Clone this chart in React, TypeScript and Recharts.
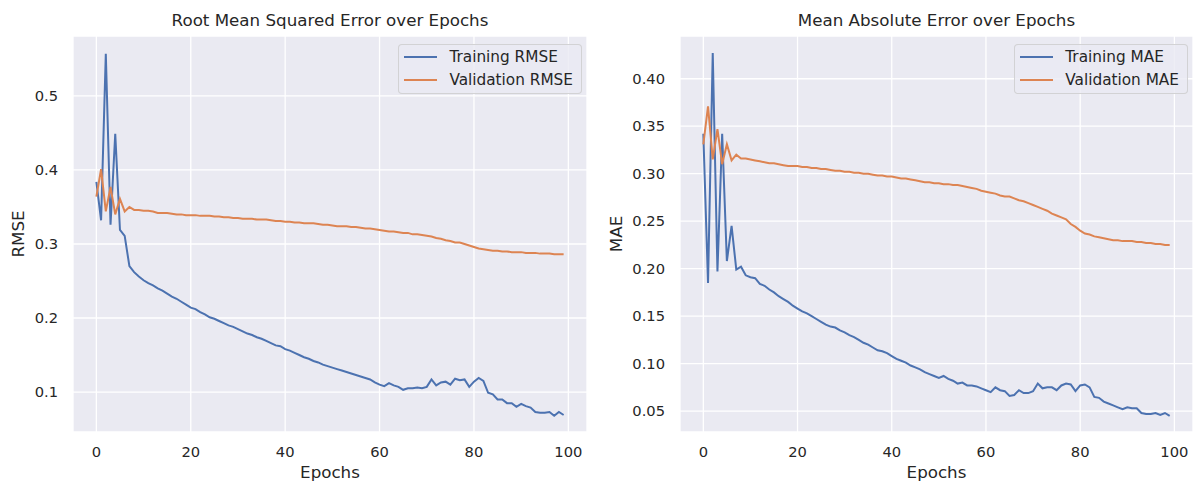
import React from 'react';
import { LineChart, Line, XAxis, YAxis, CartesianGrid, Legend, Label } from 'recharts';

// values, epoch = array index
const trainRmse = [
  0.384, 0.332, 0.557, 0.326, 0.449, 0.319, 0.311, 0.270, 0.262, 0.256,
  0.251, 0.247, 0.244, 0.240, 0.237, 0.233, 0.229, 0.226, 0.222, 0.218,
  0.214, 0.212, 0.208, 0.205, 0.201, 0.199, 0.196, 0.193, 0.190, 0.188,
  0.185, 0.182, 0.179, 0.177, 0.174, 0.172, 0.169, 0.166, 0.163, 0.162,
  0.158, 0.156, 0.153, 0.150, 0.147, 0.145, 0.142, 0.140, 0.137, 0.135,
  0.133, 0.131, 0.129, 0.127, 0.125, 0.123, 0.121, 0.119, 0.117, 0.113,
  0.110, 0.108, 0.112, 0.109, 0.107, 0.103, 0.105, 0.105, 0.106, 0.105,
  0.107, 0.117, 0.109, 0.113, 0.114, 0.110, 0.118, 0.116, 0.117, 0.107,
  0.114, 0.119, 0.115, 0.099, 0.097, 0.090, 0.090, 0.085, 0.085, 0.080,
  0.084, 0.081, 0.079, 0.073, 0.072, 0.072, 0.073, 0.068, 0.073, 0.069,
];
const valRmse = [
  0.364, 0.401, 0.344, 0.377, 0.340, 0.361, 0.344, 0.350, 0.346, 0.346,
  0.345, 0.345, 0.344, 0.342, 0.342, 0.342, 0.341, 0.340, 0.340, 0.339,
  0.339, 0.339, 0.338, 0.338, 0.338, 0.337, 0.337, 0.336, 0.336, 0.335,
  0.335, 0.334, 0.334, 0.334, 0.333, 0.333, 0.333, 0.332, 0.331, 0.331,
  0.330, 0.330, 0.329, 0.329, 0.328, 0.328, 0.328, 0.327, 0.326, 0.326,
  0.325, 0.324, 0.324, 0.324, 0.323, 0.323, 0.322, 0.321, 0.321, 0.320,
  0.319, 0.318, 0.317, 0.317, 0.316, 0.315, 0.315, 0.313, 0.313, 0.312,
  0.311, 0.310, 0.308, 0.307, 0.305, 0.304, 0.302, 0.302, 0.300, 0.298,
  0.296, 0.294, 0.293, 0.292, 0.291, 0.291, 0.290, 0.290, 0.289, 0.289,
  0.289, 0.288, 0.288, 0.288, 0.287, 0.287, 0.287, 0.286, 0.286, 0.286,
];
const trainMae = [
  0.342, 0.185, 0.427, 0.197, 0.342, 0.208, 0.245, 0.199, 0.202, 0.193,
  0.191, 0.190, 0.184, 0.182, 0.178, 0.175, 0.171, 0.168, 0.165, 0.161,
  0.158, 0.155, 0.153, 0.150, 0.147, 0.144, 0.141, 0.139, 0.138, 0.135,
  0.133, 0.130, 0.128, 0.125, 0.122, 0.120, 0.117, 0.114, 0.113, 0.111,
  0.108, 0.105, 0.103, 0.101, 0.098, 0.096, 0.094, 0.091, 0.089, 0.087,
  0.085, 0.087, 0.084, 0.082, 0.079, 0.080, 0.077, 0.077, 0.076, 0.074,
  0.072, 0.070, 0.075, 0.072, 0.071, 0.066, 0.067, 0.072, 0.069, 0.069,
  0.071, 0.079, 0.074, 0.075, 0.075, 0.072, 0.077, 0.079, 0.078, 0.071,
  0.077, 0.078, 0.075, 0.065, 0.064, 0.060, 0.058, 0.056, 0.054, 0.052,
  0.054, 0.053, 0.053, 0.048, 0.047, 0.047, 0.048, 0.046, 0.048, 0.045,
];
const valMae = [
  0.331, 0.371, 0.315, 0.347, 0.310, 0.331, 0.314, 0.320, 0.316, 0.316,
  0.315, 0.314, 0.313, 0.312, 0.311, 0.311, 0.310, 0.309, 0.308, 0.308,
  0.308, 0.307, 0.307, 0.306, 0.306, 0.305, 0.305, 0.304, 0.303, 0.303,
  0.302, 0.302, 0.301, 0.301, 0.300, 0.300, 0.299, 0.298, 0.298, 0.297,
  0.297, 0.296, 0.295, 0.295, 0.294, 0.293, 0.292, 0.291, 0.291, 0.290,
  0.290, 0.289, 0.289, 0.288, 0.288, 0.287, 0.286, 0.285, 0.284, 0.282,
  0.281, 0.280, 0.279, 0.277, 0.276, 0.276, 0.274, 0.272, 0.271, 0.269,
  0.267, 0.265, 0.263, 0.261, 0.258, 0.256, 0.254, 0.252, 0.247, 0.244,
  0.240, 0.237, 0.236, 0.234, 0.233, 0.232, 0.231, 0.230, 0.230, 0.229,
  0.229, 0.229, 0.228, 0.228, 0.227, 0.227, 0.226, 0.226, 0.225, 0.225,
];

const epochTicks = [0, 20, 40, 60, 80, 100];
const rmseTicks = [0.1, 0.2, 0.3, 0.4, 0.5];
const maeTicks = [0.05, 0.1, 0.15, 0.2, 0.25, 0.3, 0.35, 0.4];

const BLUE = '#4c72b0';
const ORANGE = '#dd8452';
const TEXT = '#262626';
const FONT = '"DejaVu Sans", sans-serif';

const rmseRows = trainRmse.map((v, i) => ({ epoch: i, train: v, val: valRmse[i] }));
const maeRows = trainMae.map((v, i) => ({ epoch: i, train: v, val: valMae[i] }));

const LegendBox = ({ payload }: any) => (
  <div
    style={{
      display: 'inline-block',
      height: 50,
      padding: '1px 8px 0 5px',
      border: '1px solid rgba(204,204,204,0.8)',
      borderRadius: 4,
      background: 'rgba(234,234,242,0.8)',
      fontFamily: FONT,
      fontSize: 15.3,
      color: TEXT,
      boxSizing: 'border-box',
    }}
  >
    {(payload || []).map((p: any, i: number) => (
      <div key={i} style={{ display: 'flex', alignItems: 'center', height: 22.6, whiteSpace: 'nowrap' }}>
        <svg width={33} height={4} style={{ marginRight: 12 }}>
          <line x1={0} x2={33} y1={2} y2={2} stroke={p.color} strokeWidth={2} />
        </svg>
        <span>{p.value}</span>
      </div>
    ))}
  </div>
);

interface PanelProps {
  left: number;
  width: number;
  yWidth: number;
  marginRight: number;
  rows: { epoch: number; train: number; val: number }[];
  yDomain: [number, number];
  yTicks: number[];
  digits: number;
  yLabel: string;
  title: string;
  names: [string, string];
}

const Panel: React.FC<PanelProps> = (p) => {
  const plotWidth = p.width - p.yWidth - p.marginRight;
  return (
    <div style={{ position: 'absolute', left: p.left, top: 0, width: p.width, height: 487 }}>
      <div
        style={{
          position: 'absolute',
          left: p.yWidth,
          width: plotWidth,
          top: 10,
          textAlign: 'center',
          fontFamily: FONT,
          fontSize: 16.7,
          color: TEXT,
          whiteSpace: 'nowrap',
        }}
      >
        {p.title}
      </div>
      <LineChart
        width={p.width}
        height={487}
        data={p.rows}
        margin={{ top: 36, right: p.marginRight, bottom: 0, left: 0 }}
      >
        <CartesianGrid fill="#eaeaf2" stroke="#ffffff" strokeWidth={1.3} />
        <XAxis
          dataKey="epoch"
          type="number"
          domain={[-4.95, 103.95]}
          ticks={epochTicks}
          height={55}
          axisLine={false}
          tickLine={false}
          tickSize={0}
          tickMargin={15}
          tick={{ fill: TEXT, fontSize: 14.7, fontFamily: FONT }}
        >
          <Label value="Epochs" position="insideBottom" offset={9} style={{ fill: TEXT, fontSize: 16.7, fontFamily: FONT }} />
        </XAxis>
        <YAxis
          type="number"
          domain={p.yDomain}
          ticks={p.yTicks}
          width={p.yWidth}
          axisLine={false}
          tickLine={false}
          tickSize={0}
          tickMargin={15}
          tickFormatter={(v: number) => v.toFixed(p.digits)}
          tick={{ fill: TEXT, fontSize: 14.7, fontFamily: FONT }}
        >
          <Label
            content={({ viewBox }: any) => {
              const cx = viewBox.x + (p.yWidth === 73 ? 18 : 16);
              const cy = viewBox.y + viewBox.height / 2;
              return (
                <text
                  x={cx}
                  y={cy}
                  transform={`rotate(-90, ${cx}, ${cy})`}
                  textAnchor="middle"
                  dominantBaseline="central"
                  fill={TEXT}
                  fontSize={16.7}
                  fontFamily={FONT}
                >
                  {p.yLabel}
                </text>
              );
            }}
          />
        </YAxis>
        <Legend
          layout="vertical"
          align="center"
          verticalAlign="middle"
          wrapperStyle={{ right: p.marginRight + 5, top: 44, width: 'auto' }}
          content={<LegendBox />}
        />
        <Line
          type="linear"
          dataKey="train"
          name={p.names[0]}
          stroke={BLUE}
          strokeWidth={2}
          dot={false}
          isAnimationActive={false}
        />
        <Line
          type="linear"
          dataKey="val"
          name={p.names[1]}
          stroke={ORANGE}
          strokeWidth={2}
          dot={false}
          isAnimationActive={false}
        />
      </LineChart>
    </div>
  );
};

export default function App() {
  return (
    <div style={{ position: 'absolute', left: 0, top: 0, width: 1198, height: 487, background: '#fff' }}>
      <Panel
        left={0}
        width={600}
        yWidth={73}
        marginRight={13}
        rows={rmseRows}
        yDomain={[0.046, 0.581]}
        yTicks={rmseTicks}
        digits={1}
        yLabel="RMSE"
        title="Root Mean Squared Error over Epochs"
        names={['Training RMSE', 'Validation RMSE']}
      />
      <Panel
        left={600}
        width={598}
        yWidth={80}
        marginRight={5}
        rows={maeRows}
        yDomain={[0.028, 0.445]}
        yTicks={maeTicks}
        digits={2}
        yLabel="MAE"
        title="Mean Absolute Error over Epochs"
        names={['Training MAE', 'Validation MAE']}
      />
    </div>
  );
}
